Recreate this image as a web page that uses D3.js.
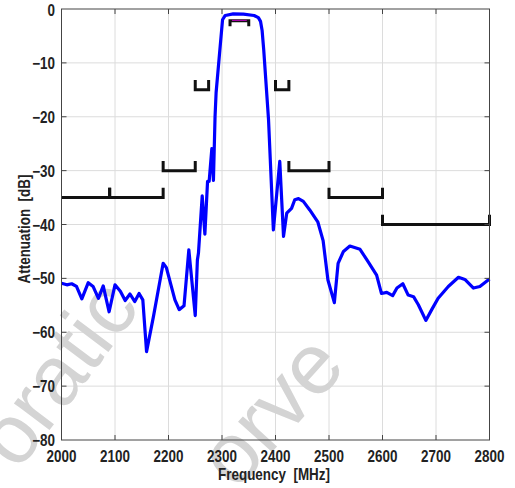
<!DOCTYPE html>
<html>
<head>
<meta charset="utf-8">
<script src="https://cdn.jsdelivr.net/npm/d3@7"></script>
<style>
  body { margin: 0; background: #fff; }
  svg { display: block; }
  text { font-family: "Liberation Sans", Arial, sans-serif; font-weight: bold; fill: #222; }
</style>
</head>
<body>
<svg width="515" height="488"></svg>
<script>
var freq = [2000, 2010, 2019, 2028, 2038, 2050, 2059, 2069, 2078, 2089,
    2100, 2110, 2119, 2128, 2137, 2145, 2152, 2159, 2172, 2190,
    2196, 2212, 2220, 2229, 2238, 2250, 2254, 2256, 2263, 2268,
    2273, 2276, 2281, 2284, 2287, 2289, 2296, 2301, 2306, 2321,
    2340, 2360, 2368, 2372, 2375, 2378, 2387, 2396, 2408, 2415,
    2421, 2430, 2436, 2443, 2452, 2464, 2479, 2489, 2498, 2510,
    2517, 2527, 2539, 2558, 2573, 2589, 2598, 2608, 2619, 2627,
    2638, 2648, 2658, 2667, 2681, 2692, 2704, 2723, 2742, 2754,
    2770, 2782, 2800];
var atten = [-50.9, -51.2, -51.0, -51.5, -53.8, -50.8, -51.5, -53.7, -51.4, -56.2,
    -51.2, -52.4, -54.1, -52.9, -54.3, -52.8, -54.0, -63.6, -57.0, -47.2,
    -48.0, -54.0, -55.8, -55.1, -44.7, -56.9, -46.6, -45.3, -34.7, -41.8,
    -32.0, -32.0, -25.9, -31.8, -20.0, -15.5, -7.6, -2.0, -1.2, -0.9,
    -0.95, -1.2, -1.6, -2.3, -4.0, -7.6, -20.6, -41.0, -28.3, -42.2,
    -37.9, -37.0, -35.4, -35.2, -35.7, -37.3, -39.5, -43.0, -50.3, -54.5,
    -47.2, -45.0, -44.0, -44.6, -46.9, -49.4, -52.8, -52.6, -53.2, -51.8,
    -51.0, -53.1, -53.4, -54.9, -57.8, -55.8, -53.7, -51.5, -49.8, -50.2,
    -51.8, -51.5, -50.1];

// spec mask segments: start, end, level
var maskStart = [2000, 2090, 2190, 2250, 2400, 2425, 2500, 2600];
var maskEnd   = [2090, 2190, 2250, 2275, 2425, 2500, 2600, 2800];
var maskLevel = [-35, -35, -30, -15, -15, -30, -35, -40];
var passStart = 2315, passEnd = 2350, passLevel = -2.2;

var xTicks = [2000, 2100, 2200, 2300, 2400, 2500, 2600, 2700, 2800];
var yTicks = [0, -10, -20, -30, -40, -50, -60, -70, -80];

var svg = d3.select('svg');
var pLeft = 61.5, pRight = 489.5, pTop = 9, pBottom = 440;

var x = d3.scaleLinear().domain([2000, 2800]).range([pLeft, pRight]);
var y = d3.scaleLinear().domain([-80, 0]).range([pBottom, pTop]);

svg.append('rect').attr('width', 515).attr('height', 488).attr('fill', '#fff');

// grid
var grid = svg.append('g').attr('stroke', '#dcdcdc').attr('stroke-width', 1);
xTicks.slice(1, -1).forEach(function(t) {
    grid.append('line').attr('x1', x(t)).attr('x2', x(t)).attr('y1', pTop).attr('y2', pBottom);
});
yTicks.slice(1, -1).forEach(function(t) {
    grid.append('line').attr('x1', pLeft).attr('x2', pRight).attr('y1', y(t)).attr('y2', y(t));
});

// watermark
var wm = svg.append('g').style('pointer-events', 'none');
wm.append('text')
    .attr('transform', 'translate(18,472) rotate(-53)')
    .style('font-size', '84px').style('font-weight', 'normal').style('fill', '#d4d4d4')
    .text('oratic');
wm.append('text')
    .attr('transform', 'translate(236,492) rotate(-48)')
    .style('font-size', '86px').style('font-weight', 'normal').style('fill', '#d4d4d4')
    .text('orve');

// mask brackets
var endLen = 1.8;
var masks = svg.append('g').attr('fill', 'none').attr('stroke', '#111')
    .attr('stroke-width', 3).attr('stroke-linejoin', 'miter');
maskStart.forEach(function(s, i) {
    var e = maskEnd[i], l = maskLevel[i];
    var pts = [[x(s), y(l)], [x(e), y(l)], [x(e), y(l + endLen)]];
    if (s > 2000) pts.unshift([x(s), y(l + endLen)]);
    masks.append('path').attr('d', d3.line()(pts));
});
masks.append('path').attr('d', d3.line()([
    [x(passStart), y(passLevel - 1)], [x(passStart), y(passLevel)],
    [x(passEnd), y(passLevel)], [x(passEnd), y(passLevel - 1)]
]));
svg.append('line')
    .attr('x1', x(passStart) + 2).attr('x2', x(passEnd) - 2)
    .attr('y1', y(passLevel) - 0.5).attr('y2', y(passLevel) - 0.5)
    .attr('stroke', '#c000c0').attr('stroke-width', 1);

// response curve
var line = d3.line()
    .x(function(d, i) { return x(freq[i]); })
    .y(function(d) { return y(d); });
svg.append('path')
    .attr('d', line(atten))
    .attr('fill', 'none')
    .attr('stroke', '#0000ff')
    .attr('stroke-width', 3.2)
    .attr('stroke-linejoin', 'round');

// frame and inward ticks
var frame = svg.append('g').attr('stroke', '#444').attr('stroke-width', 1);
frame.append('rect').attr('x', pLeft).attr('y', pTop)
    .attr('width', pRight - pLeft).attr('height', pBottom - pTop).attr('fill', 'none');
xTicks.slice(1, -1).forEach(function(t) {
    frame.append('line').attr('x1', x(t)).attr('x2', x(t)).attr('y1', pBottom).attr('y2', pBottom - 5);
    frame.append('line').attr('x1', x(t)).attr('x2', x(t)).attr('y1', pTop).attr('y2', pTop + 5);
});
yTicks.slice(1, -1).forEach(function(t) {
    frame.append('line').attr('x1', pLeft).attr('x2', pLeft + 5).attr('y1', y(t)).attr('y2', y(t));
    frame.append('line').attr('x1', pRight).attr('x2', pRight - 5).attr('y1', y(t)).attr('y2', y(t));
});

// labels (narrowed bold sans)
function label(tx, ty, rot, anchor, str) {
    svg.append('text')
        .attr('transform', 'translate(' + tx + ',' + ty + ') rotate(' + rot + ') scale(0.84,1)')
        .attr('text-anchor', anchor)
        .style('font-size', '16px')
        .style('white-space', 'pre')
        .text(str);
}
xTicks.forEach(function(t) { label(x(t), 462, 0, 'middle', t); });
yTicks.forEach(function(t) {
    var yy = y(t) + 6;
    if (t === 0) yy = 16;
    if (t === -80) yy = 446;
    label(55, yy, 0, 'end', t === 0 ? '0' : '\u2212' + Math.abs(t));
});
label(274, 480, 0, 'middle', 'Frequency  [MHz]');
label(30, 229, -90, 'middle', 'Attenuation  [dB]');
</script>
</body>
</html>
